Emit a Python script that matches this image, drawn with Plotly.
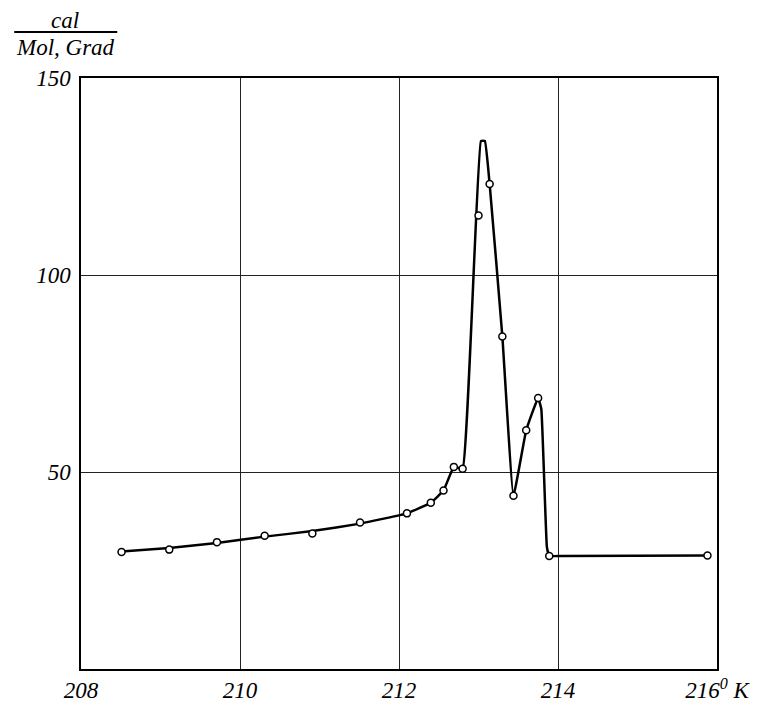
import plotly.graph_objects as go

# Measured points (open circles)
temp_K = [208.51, 209.11, 209.71, 210.31, 210.91, 211.51, 212.10, 212.40, 212.56,
          212.69, 212.80, 213.00, 213.14, 213.30, 213.44, 213.60, 213.75, 213.89, 215.88]
cp = [29.7, 30.3, 32.2, 33.8, 34.4, 37.2, 39.5, 42.2, 45.3,
      51.3, 50.8, 115.1, 123.1, 84.4, 44.0, 60.6, 68.8, 28.7, 28.8]

# Drawn curve through the points
curve_x = [208.51, 209.11, 209.71, 210.31, 210.91, 211.51, 212.10, 212.40, 212.56,
           212.69, 212.80, 213.03, 213.08, 213.14, 213.30, 213.44, 213.60, 213.75,
           213.79, 213.86, 213.89, 214.05, 215.88]
curve_y = [29.8, 30.7, 32.0, 33.6, 35.0, 36.9, 39.5, 42.2, 45.3,
           51.3, 50.8, 134.0, 134.0, 123.1, 84.4, 44.0, 60.6, 68.8,
           66.0, 31.0, 28.7, 28.7, 28.8]

x_tick_vals = [208, 210, 212, 214, 216]
x_tick_text = ["208", "210", "212", "214", "216<sup>0</sup> K"]
y_tick_vals = [50, 100, 150]
y_tick_text = ["50", "100", "150"]

fig = go.Figure()
fig.add_trace(go.Scatter(
    x=curve_x, y=curve_y, mode="lines",
    line=dict(color="black", width=2.5, shape="spline", smoothing=0.3),
    hoverinfo="skip", showlegend=False))
fig.add_trace(go.Scatter(
    x=temp_K, y=cp, mode="markers",
    marker=dict(symbol="circle", size=7, color="white",
                line=dict(color="black", width=1.5)),
    showlegend=False))

font_main = dict(family="Liberation Serif, DejaVu Serif, serif", size=23,
                 color="black", style="italic")

fig.update_layout(
    width=771, height=704,
    margin=dict(l=73, r=62, t=70, b=43),
    paper_bgcolor="white", plot_bgcolor="white",
    xaxis=dict(range=[208, 216], tickvals=x_tick_vals, ticktext=x_tick_text,
               showgrid=True, gridcolor="#222", gridwidth=1, zeroline=False,
               showline=True, linecolor="black", linewidth=1.5, mirror=True,
               ticks="", tickfont=font_main, automargin=False),
    yaxis=dict(range=[0, 150], tickvals=y_tick_vals, ticktext=y_tick_text,
               showgrid=True, gridcolor="#222", gridwidth=1, zeroline=False,
               showline=True, linecolor="black", linewidth=1.5, mirror=True,
               ticks="", tickfont=font_main, ticklabelstandoff=4, automargin=False),
)

fig.add_annotation(xref="paper", yref="paper", x=-0.025, y=1.0, yshift=58,
                   text="cal", showarrow=False, font=font_main,
                   xanchor="center", yanchor="middle")
fig.add_annotation(xref="paper", yref="paper", x=-0.025, y=1.0, yshift=31,
                   text="Mol, Grad", showarrow=False, font=font_main,
                   xanchor="center", yanchor="middle")
fig.add_shape(type="line", xref="paper", yref="paper",
              x0=-0.105, x1=0.057, y0=1.078, y1=1.078,
              line=dict(color="black", width=2))

fig.write_html("out.html")
